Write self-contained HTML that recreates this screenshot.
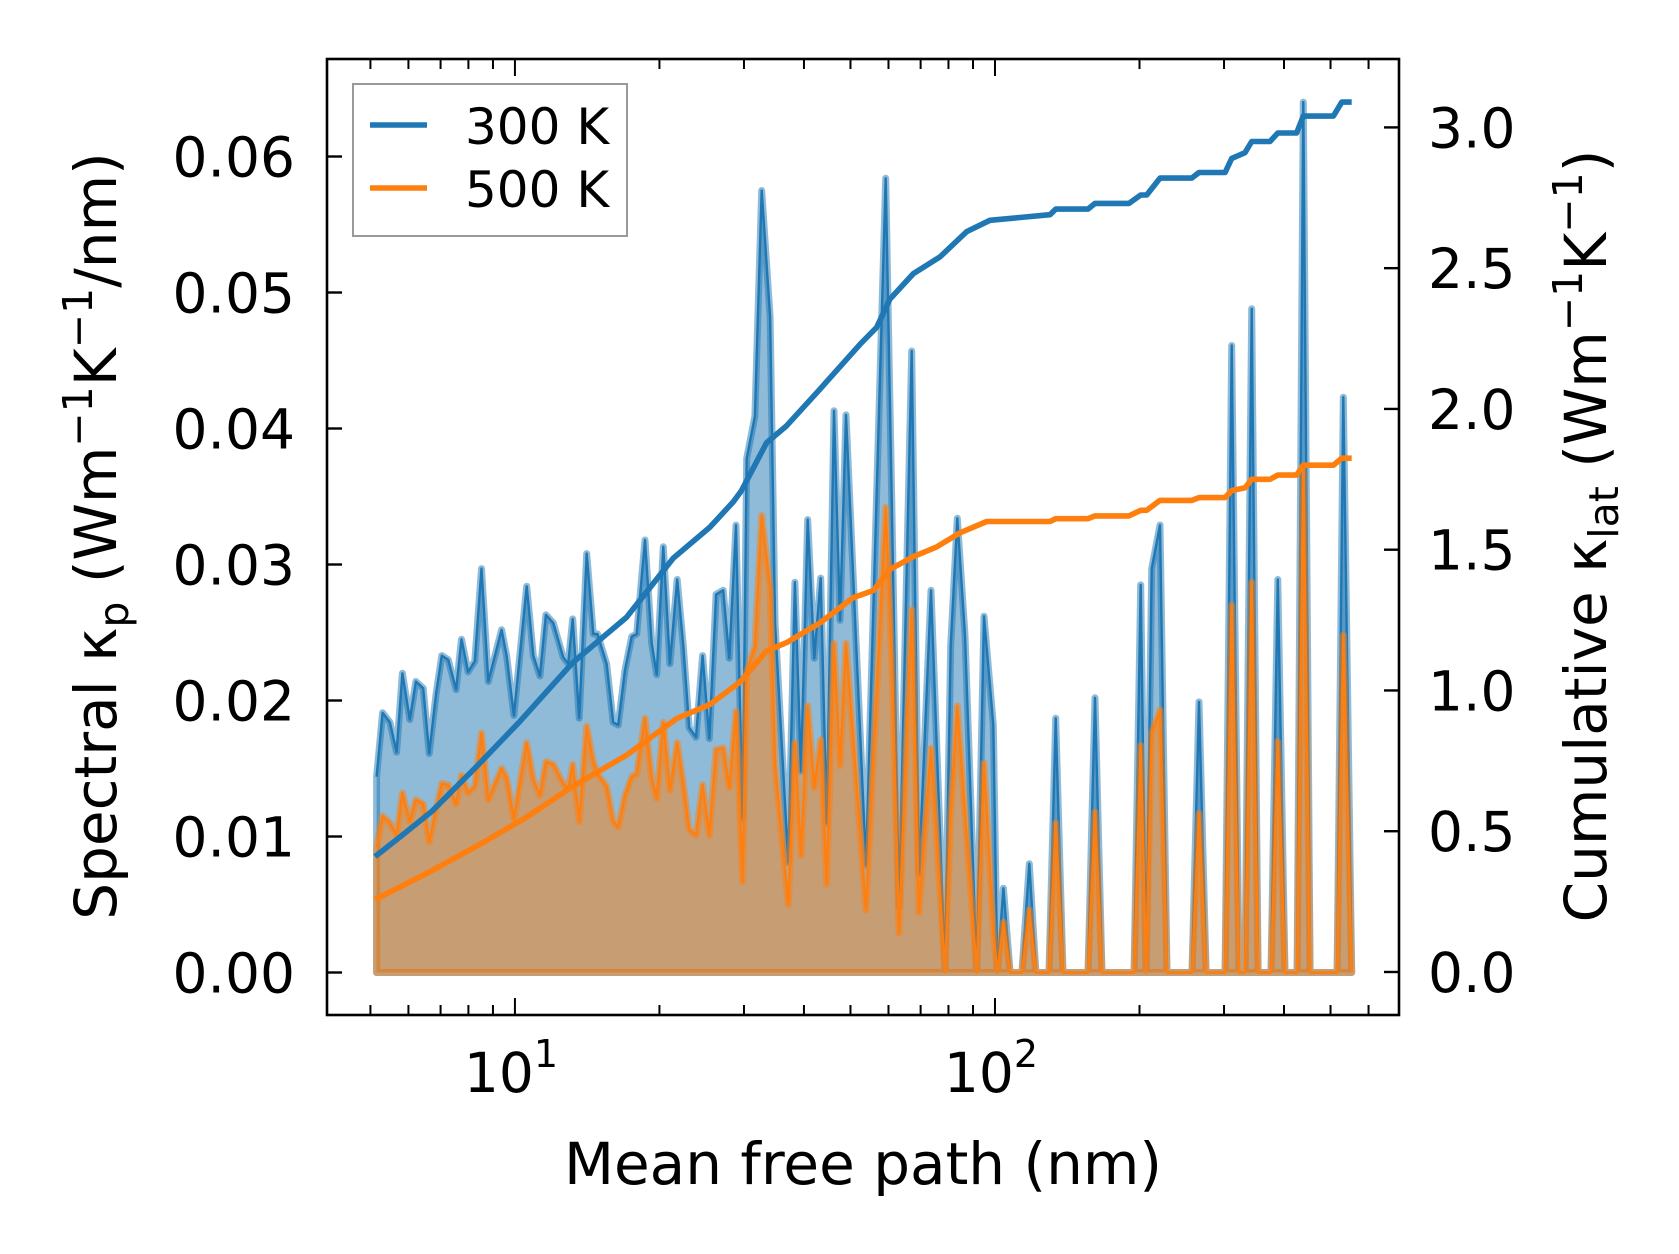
<!DOCTYPE html>
<html><head><meta charset="utf-8"><style>
html,body{margin:0;padding:0;background:#fff;}
svg{display:block;font-family:"DejaVu Sans","Liberation Sans",sans-serif;}
</style></head><body>
<svg id="chart" width="1679" height="1254" viewBox="0 0 1679 1254" xmlns="http://www.w3.org/2000/svg">
<rect x="0" y="0" width="1679" height="1254" fill="#fff"/>
<g id="plot"></g>
<g id="axes"></g>
</svg>
<script>
// ---- data ----
const mfpSpec = [5.15,5.30,5.49,5.67,5.83,6.04,6.22,6.44,6.63,6.85,7.04,7.26,7.54,7.74,7.99,8.25,8.52,8.80,9.38,9.61,9.95,10.58,10.92,11.27,11.60,12.02,12.60,12.91,13.19,13.61,14.11,14.56,14.85,15.52,16.02,16.41,16.95,17.51,17.93,18.66,19.27,19.74,20.37,21.03,21.78,22.42,23.07,23.83,24.60,25.40,26.24,27.16,27.96,28.88,29.79,30.39,31.62,32.66,34.00,34.83,37.11,38.31,39.43,40.72,42.03,43.35,44.62,46.20,47.55,48.94,53.87,59.20,61.09,63.10,67.08,69.47,73.57,78.68,80.86,83.47,86.60,91.59,94.87,99.2,101.1,104.1,107.5,113.8,117.9,121.7,129.6,133.8,138.6,156.2,161.6,167.1,194.9,201.2,206.4,212.1,220.7,228.2,257.3,266.1,275.3,301.5,311.3,322.3,331.7,342.6,353.2,375.8,388.2,401.9,425.9,438.8,453.3,515.9,531.7,553.5];
const spec300 = [0.0144,0.0191,0.0184,0.0162,0.0220,0.0186,0.0214,0.0209,0.0161,0.0205,0.0233,0.0230,0.0208,0.0245,0.0221,0.0229,0.0297,0.0214,0.0252,0.0233,0.0189,0.0284,0.0233,0.0218,0.0263,0.0257,0.0232,0.0227,0.0260,0.0187,0.0308,0.0249,0.0249,0.0227,0.0184,0.0182,0.0222,0.0247,0.0249,0.0318,0.0242,0.0219,0.0313,0.0227,0.0289,0.0240,0.0180,0.0173,0.0233,0.0172,0.0278,0.0281,0.0231,0.0329,0.0113,0.0378,0.0409,0.0575,0.0482,0.0256,0.0081,0.0287,0.0148,0.0333,0.0231,0.0290,0.0110,0.0413,0.0259,0.0410,0.0079,0.0584,0.0329,0.0048,0.0457,0.0073,0.0281,0.0002,0.0240,0.0334,0.0248,0,0.0262,0.0182,0,0.0062,0,0,0.0080,0,0,0.0187,0,0,0.0202,0,0,0.0285,0,0.0297,0.0329,0,0,0.0199,0,0,0.0461,0,0,0.0488,0,0,0.0289,0,0,0.0640,0,0,0.0423,0];
const spec500 = [0.0092,0.0115,0.0110,0.0101,0.0132,0.0111,0.0127,0.0124,0.0096,0.0120,0.0139,0.0138,0.0124,0.0145,0.0132,0.0137,0.0176,0.0127,0.0150,0.0143,0.0113,0.0169,0.0142,0.0130,0.0155,0.0153,0.0139,0.0135,0.0153,0.0111,0.0181,0.0155,0.0146,0.0137,0.0111,0.0107,0.0130,0.0144,0.0146,0.0187,0.0143,0.0128,0.0184,0.0134,0.0169,0.0139,0.0105,0.0101,0.0138,0.0101,0.0164,0.0165,0.0136,0.0192,0.0067,0.0221,0.0240,0.0336,0.0282,0.0152,0.0050,0.0169,0.0086,0.0196,0.0136,0.0171,0.0065,0.0242,0.0152,0.0242,0.0046,0.0342,0.0219,0.0029,0.0267,0.0044,0.0165,0,0.0117,0.0196,0.0117,0,0.0154,0.0030,0,0.0037,0,0,0.0046,0,0,0.0110,0,0,0.0118,0,0,0.0167,0,0.0176,0.0193,0,0,0.0117,0,0,0.0270,0,0,0.0287,0,0,0.0170,0,0,0.0371,0,0,0.0248,0];
const mfpCum = [5.11,5.67,6.71,8.32,10.24,13.22,17.08,21.37,25.48,28.50,29.65,33.44,36.81,43.19,52.36,56.69,60.42,67.56,76.82,87.30,97.6,112.7,130.2,133.8,156.2,161.6,190.2,201.2,207,220.7,257,266.1,301.5,311.3,331.7,342.6,374,388.2,425,438.8,507,527.7,553.5];
const cum300 = [0.41,0.47,0.57,0.73,0.89,1.10,1.26,1.47,1.58,1.67,1.71,1.88,1.94,2.07,2.23,2.29,2.39,2.48,2.54,2.63,2.67,2.68,2.69,2.71,2.71,2.73,2.73,2.76,2.76,2.82,2.82,2.84,2.84,2.89,2.91,2.95,2.95,2.98,2.98,3.04,3.04,3.09,3.09];
const mfpCum500 = [5.11,6.55,8.59,10.58,13.22,17.08,21.72,25.48,29.43,33.44,36.81,43.19,50.67,55.8,60.42,67.56,75.6,84.55,96.1,112.7,130.2,133.8,156.2,161.6,190.2,201.2,207,220.7,257,266.1,301.5,311.3,331.7,342.6,374,388.2,425,438.8,507,527.7,553.5];
const cum500 = [0.257,0.35,0.46,0.55,0.66,0.77,0.90,0.95,1.03,1.14,1.17,1.24,1.33,1.355,1.43,1.475,1.51,1.56,1.60,1.60,1.60,1.61,1.61,1.62,1.62,1.64,1.64,1.675,1.675,1.685,1.685,1.71,1.72,1.75,1.75,1.765,1.765,1.80,1.80,1.825,1.825];
const yLeftTicks = [0,0.01,0.02,0.03,0.04,0.05,0.06];
const yLeftLabels = ["0.00","0.01","0.02","0.03","0.04","0.05","0.06"];
const yRightTicks = [0,0.5,1.0,1.5,2.0,2.5,3.0];
const yRightLabels = ["0.0","0.5","1.0","1.5","2.0","2.5","3.0"];
const xMajor = [10,100];
const xMajorExp = ["1","2"];

// ---- scales ----
const L=327,R=1399,T=59,B=1015;
const xMin=Math.log10(4.06), xMax=Math.log10(694.4);
const x = v => L + (Math.log10(v)-xMin)/(xMax-xMin)*(R-L);
const yL = v => B - (v-(-0.003125))/(0.06717+0.003125)*(B-T);
const yR = v => B - (v-(-0.1528))/(3.243+0.1528)*(B-T);
const NS="http://www.w3.org/2000/svg";
const plot=document.getElementById('plot'), axes=document.getElementById('axes');
function mk(tag, attrs, parent){const e=document.createElementNS(NS,tag);for(const k in attrs)e.setAttribute(k,attrs[k]);parent.appendChild(e);return e;}

function spectral(xs, ys, color, name){
  let d='M'+x(xs[0])+','+yL(0);
  xs.forEach((v,i)=>{d+=' L'+x(v).toFixed(1)+','+yL(ys[i]).toFixed(1);});
  d+=' L'+x(xs[xs.length-1])+','+yL(0)+' Z';
  const f=mk('path',{d:d,fill:color,'fill-opacity':0.5,stroke:color,'stroke-opacity':0.5,'stroke-width':7,'stroke-linejoin':'round'},plot);
  
  
  let d2='';
  xs.forEach((v,i)=>{d2+=(i?' L':'M')+x(v).toFixed(1)+','+yL(ys[i]).toFixed(1);});
  const l=mk('path',{d:d2,fill:'none',stroke:color,'stroke-width':2.4,'stroke-linejoin':'round'},plot);
  
  
}
spectral(mfpSpec, spec300, '#1f77b4', 'spectral-300k');
spectral(mfpSpec, spec500, '#ff7f0e', 'spectral-500k');

function cum(xs, ys, color, name){
  let d='';
  xs.forEach((v,i)=>{d+=(i?' L':'M')+x(v).toFixed(1)+','+yR(ys[i]).toFixed(1);});
  const l=mk('path',{d:d,fill:'none',stroke:color,'stroke-width':5.6,'stroke-linejoin':'round'},plot);
  
  
}
cum(mfpCum, cum300, '#1f77b4', 'cumulative-300k');
cum(mfpCum500, cum500, '#ff7f0e', 'cumulative-500k');

// ---- axes ----
const frame=mk('rect',{x:L,y:T,width:R-L,height:B-T,fill:'none',stroke:'#000','stroke-width':2.6},axes);


const FS=55;
yLeftTicks.forEach((v,i)=>{
  const yy=yL(v);
  mk('line',{x1:L,x2:L+15,y1:yy,y2:yy,stroke:'#000','stroke-width':2.4},axes);
  const t=mk('text',{x:L-32,y:yy+20,'text-anchor':'end','font-size':FS},axes);
  t.textContent=yLeftLabels[i];
  
  
});
yRightTicks.forEach((v,i)=>{
  const yy=yR(v);
  mk('line',{x1:R-15,x2:R,y1:yy,y2:yy,stroke:'#000','stroke-width':2.4},axes);
  const t=mk('text',{x:R+29,y:yy+20,'text-anchor':'start','font-size':FS},axes);
  t.textContent=yRightLabels[i];
  
  
});
for(let dec=1;dec<=1000;dec*=10){
  for(let m=1;m<10;m++){
    const v=dec*m;
    if(v<4.06||v>694.4)continue;
    const xx=x(v), len=(m===1)?17:10;
    mk('line',{x1:xx,x2:xx,y1:B,y2:B-len,stroke:'#000','stroke-width':2},axes);
    mk('line',{x1:xx,x2:xx,y1:T,y2:T+len,stroke:'#000','stroke-width':2},axes);
  }
}
xMajor.forEach((v,i)=>{
  const t=mk('text',{x:x(v)-4,y:1092,'text-anchor':'middle','font-size':FS},axes);
  
  
  t.appendChild(document.createTextNode('10'));
  const s=mk('tspan',{'font-size':38,dy:-25},t); s.textContent=xMajorExp[i];
});
</script>
<svg style="position:absolute;left:0;top:0" width="1679" height="1254" xmlns="http://www.w3.org/2000/svg">
<text x="863" y="1184" text-anchor="middle" font-size="58" font-family="DejaVu Sans, Liberation Sans, sans-serif">Mean free path (nm)</text>
<text transform="translate(116,536) rotate(-90)" text-anchor="middle" font-size="58" font-family="DejaVu Sans, Liberation Sans, sans-serif">Spectral κ<tspan font-size="41" dy="12">p</tspan><tspan dy="-12"> (Wm</tspan><tspan font-size="41" dy="-24">−1</tspan><tspan dy="24">K</tspan><tspan font-size="41" dy="-24">−1</tspan><tspan dy="24">/nm)</tspan></text>
<text transform="translate(1606,536) rotate(-90)" text-anchor="middle" font-size="58" font-family="DejaVu Sans, Liberation Sans, sans-serif">Cumulative κ<tspan font-size="41" dy="12">lat</tspan><tspan dy="-12"> (Wm</tspan><tspan font-size="41" dy="-24">−1</tspan><tspan dy="24">K</tspan><tspan font-size="41" dy="-24">−1</tspan><tspan dy="24">)</tspan></text>
<g>
<rect x="353" y="84" width="274" height="152" fill="#fff" fill-opacity="0.8" stroke="#999" stroke-width="2"/>
<line x1="370" x2="427" y1="125" y2="125" stroke="#1f77b4" stroke-width="5.6"/>
<text x="465" y="144" font-size="50" font-family="DejaVu Sans, Liberation Sans, sans-serif">300 K</text>
<line x1="370" x2="427" y1="188" y2="188" stroke="#ff7f0e" stroke-width="5.6"/>
<text x="465" y="207" font-size="50" font-family="DejaVu Sans, Liberation Sans, sans-serif">500 K</text>
</g>
</svg>
</body></html>
